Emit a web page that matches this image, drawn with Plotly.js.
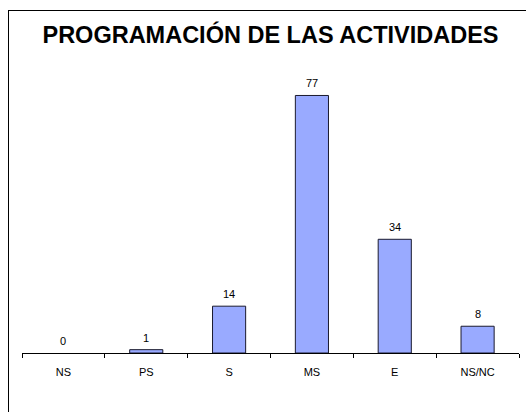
<!DOCTYPE html>
<html>
<head>
<meta charset="utf-8">
<script src="https://cdn.plot.ly/plotly-3.0.1.min.js"></script>
<style>
html,body{margin:0;padding:0;width:526px;height:412px;overflow:hidden;background:#fff;}
#chart{position:absolute;left:0;top:0;width:526px;height:412px;}
#frame{position:absolute;left:8px;top:10px;width:530px;height:420px;border:1px solid #000;pointer-events:none;box-sizing:border-box;}
</style>
</head>
<body>
<div id="chart"></div>
<div id="frame"></div>
<script>
const categories = ["NS", "PS", "S", "MS", "E", "NS/NC"];
const values = [0, 1, 14, 77, 34, 8];
const titleText = "PROGRAMACIÓN DE LAS ACTIVIDADES";

const FONT = "Liberation Sans, Arial, sans-serif";

const trace = {
  type: "bar",
  x: categories,
  y: values,
  marker: {
    color: "#99AAFF",
    line: {color: "#1a1a2e", width: values.map(v => v === 0 ? 0 : 1)}
  },
  hoverinfo: "none"
};

const annotations = categories.map((c, i) => ({
  x: c, y: values[i], xref: "x", yref: "y",
  text: String(values[i]),
  showarrow: false,
  yanchor: "bottom",
  yshift: 4,
  font: {family: FONT, size: 11, color: "#000"}
}));

const layout = {
  width: 526,
  height: 412,
  margin: {l: 22, r: 7, t: 52, b: 59},
  paper_bgcolor: "rgba(0,0,0,0)",
  plot_bgcolor: "rgba(0,0,0,0)",
  bargap: 0.6,
  showlegend: false,
  annotations: annotations,
  title: {
    text: "<b>" + titleText + "</b>",
    font: {family: FONT, size: 23.5, color: "#000"},
    x: 0.5, xanchor: "center", xref: "paper",
    y: 1 - 35/412, yanchor: "middle", yref: "container"
  },
  xaxis: {
    type: "category",
    showline: true, linecolor: "#000", linewidth: 1,
    ticks: "outside", ticklen: 4, tickcolor: "#000",
    tickson: "boundaries",
    ticklabelstandoff: 9,
    showgrid: false, zeroline: false,
    tickfont: {family: FONT, size: 11, color: "#000"}
  },
  yaxis: {
    range: [0, 90],
    visible: false,
    showgrid: false, zeroline: false
  }
};

Plotly.newPlot("chart", [trace], layout, {staticPlot: true, displayModeBar: false});
</script>
</body>
</html>
